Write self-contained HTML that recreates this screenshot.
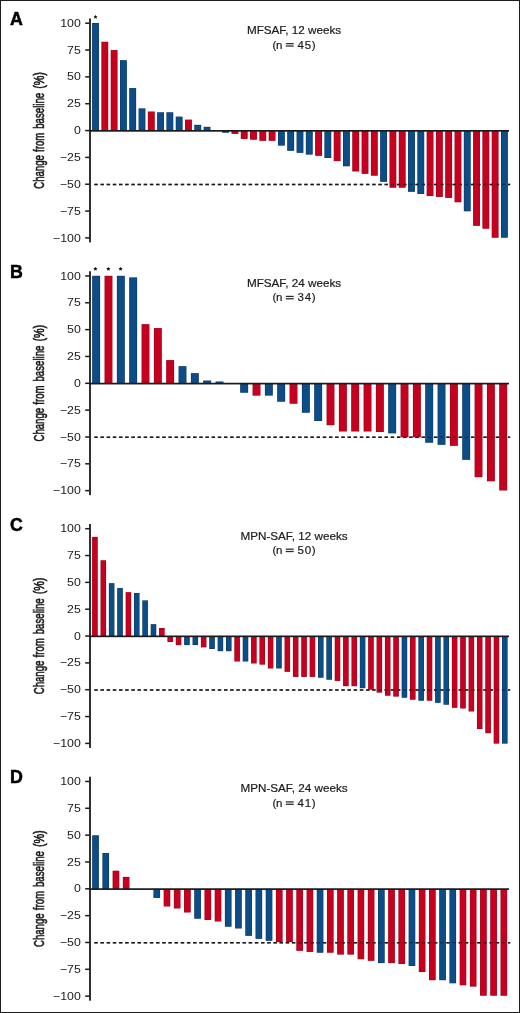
<!DOCTYPE html>
<html><head><meta charset="utf-8"><title>Waterfall plots</title><style>
html,body{margin:0;padding:0;background:#fff;width:520px;height:1013px;overflow:hidden;}
svg{display:block;will-change:transform;}
text{font-family:"Liberation Sans",sans-serif;fill:#1a1a1a;}
.tl{font-size:11px;}
.tt{font-size:11.7px;stroke:#1a1a1a;stroke-width:0.2px;}
.tn{font-size:11.5px;stroke:#1a1a1a;stroke-width:0.2px;}
.yl{font-size:14px;stroke:#1a1a1a;stroke-width:0.6px;}
.pl{font-size:17.8px;font-weight:bold;fill:#000;stroke:#000;stroke-width:0.5px;}
</style></head><body>
<svg width="520" height="1013" viewBox="0 0 520 1013">
<rect x="0" y="0" width="520" height="1013" fill="#fff"/>
<g>
<line x1="94.3" y1="184.48" x2="510.2" y2="184.48" stroke="#1a1a1a" stroke-width="1.5" stroke-dasharray="3.45 2.725"/>
<rect x="92.1" y="23" width="6.85" height="107.85" fill="#0a3561"/>
<rect x="92.6" y="23.5" width="5.85" height="107.35" fill="#0d4d87"/>
<rect x="101.39" y="41.75" width="6.85" height="89.1" fill="#9e0019"/>
<rect x="101.89" y="42.25" width="5.85" height="88.6" fill="#c6001f"/>
<rect x="110.69" y="50.1" width="6.85" height="80.75" fill="#9e0019"/>
<rect x="111.19" y="50.6" width="5.85" height="80.25" fill="#c6001f"/>
<rect x="119.98" y="60.2" width="6.85" height="70.65" fill="#0a3561"/>
<rect x="120.48" y="60.7" width="5.85" height="70.15" fill="#0d4d87"/>
<rect x="129.27" y="88.1" width="6.85" height="42.75" fill="#0a3561"/>
<rect x="129.77" y="88.6" width="5.85" height="42.25" fill="#0d4d87"/>
<rect x="138.56" y="108.4" width="6.85" height="22.45" fill="#0a3561"/>
<rect x="139.06" y="108.9" width="5.85" height="21.95" fill="#0d4d87"/>
<rect x="147.86" y="111.5" width="6.85" height="19.35" fill="#9e0019"/>
<rect x="148.36" y="112" width="5.85" height="18.85" fill="#c6001f"/>
<rect x="157.15" y="112.3" width="6.85" height="18.55" fill="#0a3561"/>
<rect x="157.65" y="112.8" width="5.85" height="18.05" fill="#0d4d87"/>
<rect x="166.44" y="112.3" width="6.85" height="18.55" fill="#0a3561"/>
<rect x="166.94" y="112.8" width="5.85" height="18.05" fill="#0d4d87"/>
<rect x="175.74" y="116.6" width="6.85" height="14.25" fill="#0a3561"/>
<rect x="176.24" y="117.1" width="5.85" height="13.75" fill="#0d4d87"/>
<rect x="185.03" y="119.6" width="6.85" height="11.25" fill="#9e0019"/>
<rect x="185.53" y="120.1" width="5.85" height="10.75" fill="#c6001f"/>
<rect x="194.32" y="124.8" width="6.85" height="6.05" fill="#0a3561"/>
<rect x="194.82" y="125.3" width="5.85" height="5.55" fill="#0d4d87"/>
<rect x="203.62" y="126.8" width="6.85" height="4.05" fill="#0a3561"/>
<rect x="204.12" y="127.3" width="5.85" height="3.55" fill="#0d4d87"/>
<rect x="222.2" y="130.85" width="6.85" height="1.85" fill="#0a3561"/>
<rect x="222.7" y="130.85" width="5.85" height="1.35" fill="#0d4d87"/>
<rect x="231.49" y="130.85" width="6.85" height="3.05" fill="#9e0019"/>
<rect x="231.99" y="130.85" width="5.85" height="2.55" fill="#c6001f"/>
<rect x="240.79" y="130.85" width="6.85" height="8.05" fill="#9e0019"/>
<rect x="241.29" y="130.85" width="5.85" height="7.55" fill="#c6001f"/>
<rect x="250.08" y="130.85" width="6.85" height="8.85" fill="#9e0019"/>
<rect x="250.58" y="130.85" width="5.85" height="8.35" fill="#c6001f"/>
<rect x="259.37" y="130.85" width="6.85" height="9.95" fill="#9e0019"/>
<rect x="259.87" y="130.85" width="5.85" height="9.45" fill="#c6001f"/>
<rect x="268.67" y="130.85" width="6.85" height="9.95" fill="#9e0019"/>
<rect x="269.17" y="130.85" width="5.85" height="9.45" fill="#c6001f"/>
<rect x="277.96" y="130.85" width="6.85" height="14.75" fill="#0a3561"/>
<rect x="278.46" y="130.85" width="5.85" height="14.25" fill="#0d4d87"/>
<rect x="287.25" y="130.85" width="6.85" height="19.95" fill="#0a3561"/>
<rect x="287.75" y="130.85" width="5.85" height="19.45" fill="#0d4d87"/>
<rect x="296.55" y="130.85" width="6.85" height="21.95" fill="#0a3561"/>
<rect x="297.05" y="130.85" width="5.85" height="21.45" fill="#0d4d87"/>
<rect x="305.84" y="130.85" width="6.85" height="23.75" fill="#0a3561"/>
<rect x="306.34" y="130.85" width="5.85" height="23.25" fill="#0d4d87"/>
<rect x="315.13" y="130.85" width="6.85" height="24.95" fill="#9e0019"/>
<rect x="315.63" y="130.85" width="5.85" height="24.45" fill="#c6001f"/>
<rect x="324.42" y="130.85" width="6.85" height="27.15" fill="#0a3561"/>
<rect x="324.92" y="130.85" width="5.85" height="26.65" fill="#0d4d87"/>
<rect x="333.72" y="130.85" width="6.85" height="30.25" fill="#9e0019"/>
<rect x="334.22" y="130.85" width="5.85" height="29.75" fill="#c6001f"/>
<rect x="343.01" y="130.85" width="6.85" height="35.45" fill="#0a3561"/>
<rect x="343.51" y="130.85" width="5.85" height="34.95" fill="#0d4d87"/>
<rect x="352.3" y="130.85" width="6.85" height="40.65" fill="#9e0019"/>
<rect x="352.8" y="130.85" width="5.85" height="40.15" fill="#c6001f"/>
<rect x="361.6" y="130.85" width="6.85" height="42.95" fill="#9e0019"/>
<rect x="362.1" y="130.85" width="5.85" height="42.45" fill="#c6001f"/>
<rect x="370.89" y="130.85" width="6.85" height="44.85" fill="#9e0019"/>
<rect x="371.39" y="130.85" width="5.85" height="44.35" fill="#c6001f"/>
<rect x="380.18" y="130.85" width="6.85" height="50.95" fill="#0a3561"/>
<rect x="380.68" y="130.85" width="5.85" height="50.45" fill="#0d4d87"/>
<rect x="389.48" y="130.85" width="6.85" height="56.85" fill="#9e0019"/>
<rect x="389.98" y="130.85" width="5.85" height="56.35" fill="#c6001f"/>
<rect x="398.77" y="130.85" width="6.85" height="56.85" fill="#9e0019"/>
<rect x="399.27" y="130.85" width="5.85" height="56.35" fill="#c6001f"/>
<rect x="408.06" y="130.85" width="6.85" height="60.95" fill="#0a3561"/>
<rect x="408.56" y="130.85" width="5.85" height="60.45" fill="#0d4d87"/>
<rect x="417.36" y="130.85" width="6.85" height="63.15" fill="#0a3561"/>
<rect x="417.86" y="130.85" width="5.85" height="62.65" fill="#0d4d87"/>
<rect x="426.65" y="130.85" width="6.85" height="65.15" fill="#9e0019"/>
<rect x="427.15" y="130.85" width="5.85" height="64.65" fill="#c6001f"/>
<rect x="435.94" y="130.85" width="6.85" height="66.05" fill="#9e0019"/>
<rect x="436.44" y="130.85" width="5.85" height="65.55" fill="#c6001f"/>
<rect x="445.23" y="130.85" width="6.85" height="67.05" fill="#9e0019"/>
<rect x="445.73" y="130.85" width="5.85" height="66.55" fill="#c6001f"/>
<rect x="454.53" y="130.85" width="6.85" height="71.45" fill="#9e0019"/>
<rect x="455.03" y="130.85" width="5.85" height="70.95" fill="#c6001f"/>
<rect x="463.82" y="130.85" width="6.85" height="80.45" fill="#0a3561"/>
<rect x="464.32" y="130.85" width="5.85" height="79.95" fill="#0d4d87"/>
<rect x="473.11" y="130.85" width="6.85" height="94.95" fill="#9e0019"/>
<rect x="473.61" y="130.85" width="5.85" height="94.45" fill="#c6001f"/>
<rect x="482.41" y="130.85" width="6.85" height="97.85" fill="#9e0019"/>
<rect x="482.91" y="130.85" width="5.85" height="97.35" fill="#c6001f"/>
<rect x="491.7" y="130.85" width="6.85" height="106.85" fill="#9e0019"/>
<rect x="492.2" y="130.85" width="5.85" height="106.35" fill="#c6001f"/>
<rect x="500.99" y="130.85" width="6.85" height="106.85" fill="#0a3561"/>
<rect x="501.49" y="130.85" width="5.85" height="106.35" fill="#0d4d87"/>
<polygon points="95.5,14.7 96.12,16.15 97.69,16.29 96.5,17.32 96.85,18.86 95.5,18.05 94.15,18.86 94.5,17.32 93.31,16.29 94.88,16.15" fill="#111"/>
<rect x="89" y="130" width="420" height="1.7" fill="#1a1a1a"/>
<line x1="94.3" y1="184.48" x2="510.2" y2="184.48" stroke="#1a1a1a" stroke-width="1.5" stroke-dasharray="3.45 2.725" stroke-opacity="0.55"/>
<rect x="89.1" y="18.5" width="1.8" height="223.9" fill="#1a1a1a"/>
<rect x="85.2" y="22.45" width="4.2" height="1.5" fill="#1a1a1a"/>
<text class="tl" text-anchor="end" transform="translate(80.8 26.8) scale(1.12 1)">100</text>
<rect x="85.2" y="49.29" width="4.2" height="1.5" fill="#1a1a1a"/>
<text class="tl" text-anchor="end" transform="translate(80.8 53.64) scale(1.12 1)">75</text>
<rect x="85.2" y="76.13" width="4.2" height="1.5" fill="#1a1a1a"/>
<text class="tl" text-anchor="end" transform="translate(80.8 80.48) scale(1.12 1)">50</text>
<rect x="85.2" y="102.96" width="4.2" height="1.5" fill="#1a1a1a"/>
<text class="tl" text-anchor="end" transform="translate(80.8 107.31) scale(1.12 1)">25</text>
<rect x="85.2" y="129.8" width="4.2" height="1.5" fill="#1a1a1a"/>
<text class="tl" text-anchor="end" transform="translate(80.8 134.15) scale(1.12 1)">0</text>
<rect x="85.2" y="156.64" width="4.2" height="1.5" fill="#1a1a1a"/>
<text class="tl" text-anchor="end" transform="translate(80.8 160.99) scale(1.12 1)">−25</text>
<rect x="85.2" y="183.48" width="4.2" height="1.5" fill="#1a1a1a"/>
<text class="tl" text-anchor="end" transform="translate(80.8 187.83) scale(1.12 1)">−50</text>
<rect x="85.2" y="210.31" width="4.2" height="1.5" fill="#1a1a1a"/>
<text class="tl" text-anchor="end" transform="translate(80.8 214.66) scale(1.12 1)">−75</text>
<rect x="85.2" y="237.15" width="4.2" height="1.5" fill="#1a1a1a"/>
<text class="tl" text-anchor="end" transform="translate(80.8 241.5) scale(1.12 1)">−100</text>
<text class="tt" x="294" y="33.75" text-anchor="middle">MFSAF, 12 weeks</text>
<text class="tn" x="272.6 276.05" y="48.5">(n</text>
<rect x="285.8" y="43.05" width="7.9" height="1.25" fill="#2a2a2a"/>
<rect x="285.8" y="45.4" width="7.9" height="1.25" fill="#2a2a2a"/>
<text class="tn" x="297.6 304.65 311.7" y="48.5">45)</text>
<text class="yl" text-anchor="middle" transform="translate(44 171.93) rotate(-90) scale(0.69 1)">Change</text>
<text class="yl" text-anchor="middle" transform="translate(44 142.3) rotate(-90) scale(0.69 1)">from</text>
<text class="yl" text-anchor="middle" transform="translate(44 110.8) rotate(-90) scale(0.69 1)">baseline</text>
<text class="yl" text-anchor="middle" transform="translate(44 80.45) rotate(-90) scale(0.77 1)">(%)</text>
<text class="pl" x="10.1" y="25.1">A</text>
</g>
<g>
<line x1="94.3" y1="437.23" x2="510.2" y2="437.23" stroke="#1a1a1a" stroke-width="1.5" stroke-dasharray="3.45 2.725"/>
<rect x="92.2" y="275.8" width="7.9" height="107.8" fill="#0a3561"/>
<rect x="92.7" y="276.3" width="6.9" height="107.3" fill="#0d4d87"/>
<rect x="104.53" y="275.8" width="7.9" height="107.8" fill="#9e0019"/>
<rect x="105.03" y="276.3" width="6.9" height="107.3" fill="#c6001f"/>
<rect x="116.87" y="275.8" width="7.9" height="107.8" fill="#0a3561"/>
<rect x="117.37" y="276.3" width="6.9" height="107.3" fill="#0d4d87"/>
<rect x="129.21" y="277.4" width="7.9" height="106.2" fill="#0a3561"/>
<rect x="129.71" y="277.9" width="6.9" height="105.7" fill="#0d4d87"/>
<rect x="141.54" y="324.2" width="7.9" height="59.4" fill="#9e0019"/>
<rect x="142.04" y="324.7" width="6.9" height="58.9" fill="#c6001f"/>
<rect x="153.88" y="328.1" width="7.9" height="55.5" fill="#9e0019"/>
<rect x="154.38" y="328.6" width="6.9" height="55" fill="#c6001f"/>
<rect x="166.21" y="360.1" width="7.9" height="23.5" fill="#9e0019"/>
<rect x="166.71" y="360.6" width="6.9" height="23" fill="#c6001f"/>
<rect x="178.55" y="366.2" width="7.9" height="17.4" fill="#0a3561"/>
<rect x="179.05" y="366.7" width="6.9" height="16.9" fill="#0d4d87"/>
<rect x="190.88" y="373.2" width="7.9" height="10.4" fill="#0a3561"/>
<rect x="191.38" y="373.7" width="6.9" height="9.9" fill="#0d4d87"/>
<rect x="203.22" y="380.5" width="7.9" height="3.1" fill="#0a3561"/>
<rect x="203.72" y="381" width="6.9" height="2.6" fill="#0d4d87"/>
<rect x="215.55" y="381.5" width="7.9" height="2.1" fill="#0a3561"/>
<rect x="216.05" y="382" width="6.9" height="1.6" fill="#0d4d87"/>
<rect x="240.22" y="383.6" width="7.9" height="9.1" fill="#0a3561"/>
<rect x="240.72" y="383.6" width="6.9" height="8.6" fill="#0d4d87"/>
<rect x="252.56" y="383.6" width="7.9" height="12" fill="#9e0019"/>
<rect x="253.06" y="383.6" width="6.9" height="11.5" fill="#c6001f"/>
<rect x="264.89" y="383.6" width="7.9" height="12" fill="#0a3561"/>
<rect x="265.39" y="383.6" width="6.9" height="11.5" fill="#0d4d87"/>
<rect x="277.23" y="383.6" width="7.9" height="18.1" fill="#0a3561"/>
<rect x="277.73" y="383.6" width="6.9" height="17.6" fill="#0d4d87"/>
<rect x="289.56" y="383.6" width="7.9" height="20.1" fill="#9e0019"/>
<rect x="290.06" y="383.6" width="6.9" height="19.6" fill="#c6001f"/>
<rect x="301.9" y="383.6" width="7.9" height="29.1" fill="#0a3561"/>
<rect x="302.4" y="383.6" width="6.9" height="28.6" fill="#0d4d87"/>
<rect x="314.23" y="383.6" width="7.9" height="37.4" fill="#0a3561"/>
<rect x="314.73" y="383.6" width="6.9" height="36.9" fill="#0d4d87"/>
<rect x="326.56" y="383.6" width="7.9" height="41.6" fill="#9e0019"/>
<rect x="327.06" y="383.6" width="6.9" height="41.1" fill="#c6001f"/>
<rect x="338.9" y="383.6" width="7.9" height="47.9" fill="#9e0019"/>
<rect x="339.4" y="383.6" width="6.9" height="47.4" fill="#c6001f"/>
<rect x="351.24" y="383.6" width="7.9" height="47.9" fill="#9e0019"/>
<rect x="351.74" y="383.6" width="6.9" height="47.4" fill="#c6001f"/>
<rect x="363.57" y="383.6" width="7.9" height="47.9" fill="#9e0019"/>
<rect x="364.07" y="383.6" width="6.9" height="47.4" fill="#c6001f"/>
<rect x="375.91" y="383.6" width="7.9" height="48.4" fill="#9e0019"/>
<rect x="376.41" y="383.6" width="6.9" height="47.9" fill="#c6001f"/>
<rect x="388.24" y="383.6" width="7.9" height="49.8" fill="#0a3561"/>
<rect x="388.74" y="383.6" width="6.9" height="49.3" fill="#0d4d87"/>
<rect x="400.57" y="383.6" width="7.9" height="53.7" fill="#9e0019"/>
<rect x="401.07" y="383.6" width="6.9" height="53.2" fill="#c6001f"/>
<rect x="412.91" y="383.6" width="7.9" height="53.7" fill="#9e0019"/>
<rect x="413.41" y="383.6" width="6.9" height="53.2" fill="#c6001f"/>
<rect x="425.25" y="383.6" width="7.9" height="59.1" fill="#0a3561"/>
<rect x="425.75" y="383.6" width="6.9" height="58.6" fill="#0d4d87"/>
<rect x="437.58" y="383.6" width="7.9" height="61.2" fill="#0a3561"/>
<rect x="438.08" y="383.6" width="6.9" height="60.7" fill="#0d4d87"/>
<rect x="449.92" y="383.6" width="7.9" height="62.2" fill="#9e0019"/>
<rect x="450.42" y="383.6" width="6.9" height="61.7" fill="#c6001f"/>
<rect x="462.25" y="383.6" width="7.9" height="76.2" fill="#0a3561"/>
<rect x="462.75" y="383.6" width="6.9" height="75.7" fill="#0d4d87"/>
<rect x="474.59" y="383.6" width="7.9" height="93.6" fill="#9e0019"/>
<rect x="475.09" y="383.6" width="6.9" height="93.1" fill="#c6001f"/>
<rect x="486.92" y="383.6" width="7.9" height="97.7" fill="#9e0019"/>
<rect x="487.42" y="383.6" width="6.9" height="97.2" fill="#c6001f"/>
<rect x="499.25" y="383.6" width="7.9" height="106.9" fill="#9e0019"/>
<rect x="499.75" y="383.6" width="6.9" height="106.4" fill="#c6001f"/>
<polygon points="95.4,266.65 96.02,268.1 97.59,268.24 96.4,269.27 96.75,270.81 95.4,270 94.05,270.81 94.4,269.27 93.21,268.24 94.78,268.1" fill="#111"/>
<polygon points="108.35,266.65 108.97,268.1 110.54,268.24 109.35,269.27 109.7,270.81 108.35,270 107,270.81 107.35,269.27 106.16,268.24 107.73,268.1" fill="#111"/>
<polygon points="120.6,266.65 121.22,268.1 122.79,268.24 121.6,269.27 121.95,270.81 120.6,270 119.25,270.81 119.6,269.27 118.41,268.24 119.98,268.1" fill="#111"/>
<rect x="89" y="382.75" width="420" height="1.7" fill="#1a1a1a"/>
<line x1="94.3" y1="437.23" x2="510.2" y2="437.23" stroke="#1a1a1a" stroke-width="1.5" stroke-dasharray="3.45 2.725" stroke-opacity="0.55"/>
<rect x="89.1" y="271.25" width="1.8" height="223.9" fill="#1a1a1a"/>
<rect x="85.2" y="275.2" width="4.2" height="1.5" fill="#1a1a1a"/>
<text class="tl" text-anchor="end" transform="translate(80.8 279.55) scale(1.12 1)">100</text>
<rect x="85.2" y="302.04" width="4.2" height="1.5" fill="#1a1a1a"/>
<text class="tl" text-anchor="end" transform="translate(80.8 306.39) scale(1.12 1)">75</text>
<rect x="85.2" y="328.88" width="4.2" height="1.5" fill="#1a1a1a"/>
<text class="tl" text-anchor="end" transform="translate(80.8 333.23) scale(1.12 1)">50</text>
<rect x="85.2" y="355.71" width="4.2" height="1.5" fill="#1a1a1a"/>
<text class="tl" text-anchor="end" transform="translate(80.8 360.06) scale(1.12 1)">25</text>
<rect x="85.2" y="382.55" width="4.2" height="1.5" fill="#1a1a1a"/>
<text class="tl" text-anchor="end" transform="translate(80.8 386.9) scale(1.12 1)">0</text>
<rect x="85.2" y="409.39" width="4.2" height="1.5" fill="#1a1a1a"/>
<text class="tl" text-anchor="end" transform="translate(80.8 413.74) scale(1.12 1)">−25</text>
<rect x="85.2" y="436.23" width="4.2" height="1.5" fill="#1a1a1a"/>
<text class="tl" text-anchor="end" transform="translate(80.8 440.58) scale(1.12 1)">−50</text>
<rect x="85.2" y="463.06" width="4.2" height="1.5" fill="#1a1a1a"/>
<text class="tl" text-anchor="end" transform="translate(80.8 467.41) scale(1.12 1)">−75</text>
<rect x="85.2" y="489.9" width="4.2" height="1.5" fill="#1a1a1a"/>
<text class="tl" text-anchor="end" transform="translate(80.8 494.25) scale(1.12 1)">−100</text>
<text class="tt" x="294" y="286.5" text-anchor="middle">MFSAF, 24 weeks</text>
<text class="tn" x="272.6 276.05" y="301.25">(n</text>
<rect x="285.8" y="295.8" width="7.9" height="1.25" fill="#2a2a2a"/>
<rect x="285.8" y="298.15" width="7.9" height="1.25" fill="#2a2a2a"/>
<text class="tn" x="297.6 304.65 311.7" y="301.25">34)</text>
<text class="yl" text-anchor="middle" transform="translate(44 424.68) rotate(-90) scale(0.69 1)">Change</text>
<text class="yl" text-anchor="middle" transform="translate(44 395.05) rotate(-90) scale(0.69 1)">from</text>
<text class="yl" text-anchor="middle" transform="translate(44 363.55) rotate(-90) scale(0.69 1)">baseline</text>
<text class="yl" text-anchor="middle" transform="translate(44 333.2) rotate(-90) scale(0.77 1)">(%)</text>
<text class="pl" x="10.1" y="277.85">B</text>
</g>
<g>
<line x1="94.3" y1="689.97" x2="510.2" y2="689.97" stroke="#1a1a1a" stroke-width="1.5" stroke-dasharray="3.45 2.725"/>
<rect x="92.15" y="536.85" width="5.55" height="99.5" fill="#9e0019"/>
<rect x="92.65" y="537.35" width="4.55" height="99" fill="#c6001f"/>
<rect x="100.52" y="560.3" width="5.55" height="76.05" fill="#9e0019"/>
<rect x="101.02" y="560.8" width="4.55" height="75.55" fill="#c6001f"/>
<rect x="108.88" y="583.2" width="5.55" height="53.15" fill="#0a3561"/>
<rect x="109.38" y="583.7" width="4.55" height="52.65" fill="#0d4d87"/>
<rect x="117.25" y="588.1" width="5.55" height="48.25" fill="#0a3561"/>
<rect x="117.75" y="588.6" width="4.55" height="47.75" fill="#0d4d87"/>
<rect x="125.61" y="592.2" width="5.55" height="44.15" fill="#9e0019"/>
<rect x="126.11" y="592.7" width="4.55" height="43.65" fill="#c6001f"/>
<rect x="133.98" y="593" width="5.55" height="43.35" fill="#0a3561"/>
<rect x="134.48" y="593.5" width="4.55" height="42.85" fill="#0d4d87"/>
<rect x="142.34" y="600.4" width="5.55" height="35.95" fill="#0a3561"/>
<rect x="142.84" y="600.9" width="4.55" height="35.45" fill="#0d4d87"/>
<rect x="150.71" y="624.2" width="5.55" height="12.15" fill="#0a3561"/>
<rect x="151.21" y="624.7" width="4.55" height="11.65" fill="#0d4d87"/>
<rect x="159.07" y="628" width="5.55" height="8.35" fill="#9e0019"/>
<rect x="159.57" y="628.5" width="4.55" height="7.85" fill="#c6001f"/>
<rect x="167.44" y="636.35" width="5.55" height="5.65" fill="#9e0019"/>
<rect x="167.94" y="636.35" width="4.55" height="5.15" fill="#c6001f"/>
<rect x="175.8" y="636.35" width="5.55" height="8.75" fill="#9e0019"/>
<rect x="176.3" y="636.35" width="4.55" height="8.25" fill="#c6001f"/>
<rect x="184.17" y="636.35" width="5.55" height="8.75" fill="#0a3561"/>
<rect x="184.67" y="636.35" width="4.55" height="8.25" fill="#0d4d87"/>
<rect x="192.53" y="636.35" width="5.55" height="8.75" fill="#0a3561"/>
<rect x="193.03" y="636.35" width="4.55" height="8.25" fill="#0d4d87"/>
<rect x="200.9" y="636.35" width="5.55" height="11.05" fill="#9e0019"/>
<rect x="201.4" y="636.35" width="4.55" height="10.55" fill="#c6001f"/>
<rect x="209.26" y="636.35" width="5.55" height="12.65" fill="#0a3561"/>
<rect x="209.76" y="636.35" width="4.55" height="12.15" fill="#0d4d87"/>
<rect x="217.62" y="636.35" width="5.55" height="14.85" fill="#0a3561"/>
<rect x="218.12" y="636.35" width="4.55" height="14.35" fill="#0d4d87"/>
<rect x="225.99" y="636.35" width="5.55" height="14.85" fill="#0a3561"/>
<rect x="226.49" y="636.35" width="4.55" height="14.35" fill="#0d4d87"/>
<rect x="234.36" y="636.35" width="5.55" height="25.15" fill="#9e0019"/>
<rect x="234.86" y="636.35" width="4.55" height="24.65" fill="#c6001f"/>
<rect x="242.72" y="636.35" width="5.55" height="25.15" fill="#0a3561"/>
<rect x="243.22" y="636.35" width="4.55" height="24.65" fill="#0d4d87"/>
<rect x="251.09" y="636.35" width="5.55" height="27.15" fill="#9e0019"/>
<rect x="251.59" y="636.35" width="4.55" height="26.65" fill="#c6001f"/>
<rect x="259.45" y="636.35" width="5.55" height="28.25" fill="#9e0019"/>
<rect x="259.95" y="636.35" width="4.55" height="27.75" fill="#c6001f"/>
<rect x="267.81" y="636.35" width="5.55" height="32.15" fill="#9e0019"/>
<rect x="268.31" y="636.35" width="4.55" height="31.65" fill="#c6001f"/>
<rect x="276.18" y="636.35" width="5.55" height="32.15" fill="#0a3561"/>
<rect x="276.68" y="636.35" width="4.55" height="31.65" fill="#0d4d87"/>
<rect x="284.55" y="636.35" width="5.55" height="35.45" fill="#9e0019"/>
<rect x="285.05" y="636.35" width="4.55" height="34.95" fill="#c6001f"/>
<rect x="292.91" y="636.35" width="5.55" height="40.55" fill="#9e0019"/>
<rect x="293.41" y="636.35" width="4.55" height="40.05" fill="#c6001f"/>
<rect x="301.27" y="636.35" width="5.55" height="40.55" fill="#9e0019"/>
<rect x="301.77" y="636.35" width="4.55" height="40.05" fill="#c6001f"/>
<rect x="309.64" y="636.35" width="5.55" height="40.55" fill="#9e0019"/>
<rect x="310.14" y="636.35" width="4.55" height="40.05" fill="#c6001f"/>
<rect x="318" y="636.35" width="5.55" height="41.35" fill="#0a3561"/>
<rect x="318.5" y="636.35" width="4.55" height="40.85" fill="#0d4d87"/>
<rect x="326.37" y="636.35" width="5.55" height="43.35" fill="#0a3561"/>
<rect x="326.87" y="636.35" width="4.55" height="42.85" fill="#0d4d87"/>
<rect x="334.74" y="636.35" width="5.55" height="44.55" fill="#9e0019"/>
<rect x="335.24" y="636.35" width="4.55" height="44.05" fill="#c6001f"/>
<rect x="343.1" y="636.35" width="5.55" height="49.85" fill="#9e0019"/>
<rect x="343.6" y="636.35" width="4.55" height="49.35" fill="#c6001f"/>
<rect x="351.47" y="636.35" width="5.55" height="49.85" fill="#9e0019"/>
<rect x="351.97" y="636.35" width="4.55" height="49.35" fill="#c6001f"/>
<rect x="359.83" y="636.35" width="5.55" height="51.85" fill="#0a3561"/>
<rect x="360.33" y="636.35" width="4.55" height="51.35" fill="#0d4d87"/>
<rect x="368.2" y="636.35" width="5.55" height="53.35" fill="#9e0019"/>
<rect x="368.7" y="636.35" width="4.55" height="52.85" fill="#c6001f"/>
<rect x="376.56" y="636.35" width="5.55" height="56.25" fill="#9e0019"/>
<rect x="377.06" y="636.35" width="4.55" height="55.75" fill="#c6001f"/>
<rect x="384.93" y="636.35" width="5.55" height="59.35" fill="#9e0019"/>
<rect x="385.43" y="636.35" width="4.55" height="58.85" fill="#c6001f"/>
<rect x="393.29" y="636.35" width="5.55" height="60.25" fill="#9e0019"/>
<rect x="393.79" y="636.35" width="4.55" height="59.75" fill="#c6001f"/>
<rect x="401.65" y="636.35" width="5.55" height="61.35" fill="#0a3561"/>
<rect x="402.15" y="636.35" width="4.55" height="60.85" fill="#0d4d87"/>
<rect x="410.02" y="636.35" width="5.55" height="63.35" fill="#9e0019"/>
<rect x="410.52" y="636.35" width="4.55" height="62.85" fill="#c6001f"/>
<rect x="418.38" y="636.35" width="5.55" height="64.35" fill="#0a3561"/>
<rect x="418.88" y="636.35" width="4.55" height="63.85" fill="#0d4d87"/>
<rect x="426.75" y="636.35" width="5.55" height="64.35" fill="#9e0019"/>
<rect x="427.25" y="636.35" width="4.55" height="63.85" fill="#c6001f"/>
<rect x="435.12" y="636.35" width="5.55" height="66.45" fill="#0a3561"/>
<rect x="435.62" y="636.35" width="4.55" height="65.95" fill="#0d4d87"/>
<rect x="443.48" y="636.35" width="5.55" height="68.35" fill="#0a3561"/>
<rect x="443.98" y="636.35" width="4.55" height="67.85" fill="#0d4d87"/>
<rect x="451.85" y="636.35" width="5.55" height="71.45" fill="#9e0019"/>
<rect x="452.35" y="636.35" width="4.55" height="70.95" fill="#c6001f"/>
<rect x="460.21" y="636.35" width="5.55" height="72.15" fill="#9e0019"/>
<rect x="460.71" y="636.35" width="4.55" height="71.65" fill="#c6001f"/>
<rect x="468.58" y="636.35" width="5.55" height="75.15" fill="#9e0019"/>
<rect x="469.08" y="636.35" width="4.55" height="74.65" fill="#c6001f"/>
<rect x="476.94" y="636.35" width="5.55" height="92.65" fill="#9e0019"/>
<rect x="477.44" y="636.35" width="4.55" height="92.15" fill="#c6001f"/>
<rect x="485.31" y="636.35" width="5.55" height="96.85" fill="#9e0019"/>
<rect x="485.81" y="636.35" width="4.55" height="96.35" fill="#c6001f"/>
<rect x="493.67" y="636.35" width="5.55" height="107.25" fill="#9e0019"/>
<rect x="494.17" y="636.35" width="4.55" height="106.75" fill="#c6001f"/>
<rect x="502.03" y="636.35" width="5.55" height="107.25" fill="#0a3561"/>
<rect x="502.53" y="636.35" width="4.55" height="106.75" fill="#0d4d87"/>
<rect x="89" y="635.5" width="420" height="1.7" fill="#1a1a1a"/>
<line x1="94.3" y1="689.97" x2="510.2" y2="689.97" stroke="#1a1a1a" stroke-width="1.5" stroke-dasharray="3.45 2.725" stroke-opacity="0.55"/>
<rect x="89.1" y="524" width="1.8" height="223.9" fill="#1a1a1a"/>
<rect x="85.2" y="527.95" width="4.2" height="1.5" fill="#1a1a1a"/>
<text class="tl" text-anchor="end" transform="translate(80.8 532.3) scale(1.12 1)">100</text>
<rect x="85.2" y="554.79" width="4.2" height="1.5" fill="#1a1a1a"/>
<text class="tl" text-anchor="end" transform="translate(80.8 559.14) scale(1.12 1)">75</text>
<rect x="85.2" y="581.62" width="4.2" height="1.5" fill="#1a1a1a"/>
<text class="tl" text-anchor="end" transform="translate(80.8 585.98) scale(1.12 1)">50</text>
<rect x="85.2" y="608.46" width="4.2" height="1.5" fill="#1a1a1a"/>
<text class="tl" text-anchor="end" transform="translate(80.8 612.81) scale(1.12 1)">25</text>
<rect x="85.2" y="635.3" width="4.2" height="1.5" fill="#1a1a1a"/>
<text class="tl" text-anchor="end" transform="translate(80.8 639.65) scale(1.12 1)">0</text>
<rect x="85.2" y="662.14" width="4.2" height="1.5" fill="#1a1a1a"/>
<text class="tl" text-anchor="end" transform="translate(80.8 666.49) scale(1.12 1)">−25</text>
<rect x="85.2" y="688.97" width="4.2" height="1.5" fill="#1a1a1a"/>
<text class="tl" text-anchor="end" transform="translate(80.8 693.32) scale(1.12 1)">−50</text>
<rect x="85.2" y="715.81" width="4.2" height="1.5" fill="#1a1a1a"/>
<text class="tl" text-anchor="end" transform="translate(80.8 720.16) scale(1.12 1)">−75</text>
<rect x="85.2" y="742.65" width="4.2" height="1.5" fill="#1a1a1a"/>
<text class="tl" text-anchor="end" transform="translate(80.8 747) scale(1.12 1)">−100</text>
<text class="tt" x="294" y="539.65" text-anchor="middle">MPN-SAF, 12 weeks</text>
<text class="tn" x="272.6 276.05" y="554">(n</text>
<rect x="285.8" y="548.55" width="7.9" height="1.25" fill="#2a2a2a"/>
<rect x="285.8" y="550.9" width="7.9" height="1.25" fill="#2a2a2a"/>
<text class="tn" x="297.6 304.65 311.7" y="554">50)</text>
<text class="yl" text-anchor="middle" transform="translate(44 677.43) rotate(-90) scale(0.69 1)">Change</text>
<text class="yl" text-anchor="middle" transform="translate(44 647.8) rotate(-90) scale(0.69 1)">from</text>
<text class="yl" text-anchor="middle" transform="translate(44 616.3) rotate(-90) scale(0.69 1)">baseline</text>
<text class="yl" text-anchor="middle" transform="translate(44 585.95) rotate(-90) scale(0.77 1)">(%)</text>
<text class="pl" x="10.1" y="530.6">C</text>
</g>
<g>
<line x1="94.3" y1="942.72" x2="510.2" y2="942.72" stroke="#1a1a1a" stroke-width="1.5" stroke-dasharray="3.45 2.725"/>
<rect x="92.2" y="835.3" width="6.65" height="53.8" fill="#0a3561"/>
<rect x="92.7" y="835.8" width="5.65" height="53.3" fill="#0d4d87"/>
<rect x="102.41" y="853" width="6.65" height="36.1" fill="#0a3561"/>
<rect x="102.91" y="853.5" width="5.65" height="35.6" fill="#0d4d87"/>
<rect x="112.61" y="870.7" width="6.65" height="18.4" fill="#9e0019"/>
<rect x="113.11" y="871.2" width="5.65" height="17.9" fill="#c6001f"/>
<rect x="122.82" y="876.9" width="6.65" height="12.2" fill="#9e0019"/>
<rect x="123.32" y="877.4" width="5.65" height="11.7" fill="#c6001f"/>
<rect x="153.44" y="889.1" width="6.65" height="8.8" fill="#0a3561"/>
<rect x="153.94" y="889.1" width="5.65" height="8.3" fill="#0d4d87"/>
<rect x="163.65" y="889.1" width="6.65" height="17.4" fill="#9e0019"/>
<rect x="164.15" y="889.1" width="5.65" height="16.9" fill="#c6001f"/>
<rect x="173.86" y="889.1" width="6.65" height="19.4" fill="#9e0019"/>
<rect x="174.36" y="889.1" width="5.65" height="18.9" fill="#c6001f"/>
<rect x="184.06" y="889.1" width="6.65" height="23.4" fill="#9e0019"/>
<rect x="184.56" y="889.1" width="5.65" height="22.9" fill="#c6001f"/>
<rect x="194.27" y="889.1" width="6.65" height="29.6" fill="#0a3561"/>
<rect x="194.77" y="889.1" width="5.65" height="29.1" fill="#0d4d87"/>
<rect x="204.48" y="889.1" width="6.65" height="30.9" fill="#9e0019"/>
<rect x="204.98" y="889.1" width="5.65" height="30.4" fill="#c6001f"/>
<rect x="214.68" y="889.1" width="6.65" height="32.4" fill="#9e0019"/>
<rect x="215.18" y="889.1" width="5.65" height="31.9" fill="#c6001f"/>
<rect x="224.89" y="889.1" width="6.65" height="37.6" fill="#0a3561"/>
<rect x="225.39" y="889.1" width="5.65" height="37.1" fill="#0d4d87"/>
<rect x="235.1" y="889.1" width="6.65" height="39.4" fill="#0a3561"/>
<rect x="235.6" y="889.1" width="5.65" height="38.9" fill="#0d4d87"/>
<rect x="245.31" y="889.1" width="6.65" height="46.7" fill="#0a3561"/>
<rect x="245.81" y="889.1" width="5.65" height="46.2" fill="#0d4d87"/>
<rect x="255.51" y="889.1" width="6.65" height="49.7" fill="#0a3561"/>
<rect x="256.01" y="889.1" width="5.65" height="49.2" fill="#0d4d87"/>
<rect x="265.72" y="889.1" width="6.65" height="51.7" fill="#0a3561"/>
<rect x="266.22" y="889.1" width="5.65" height="51.2" fill="#0d4d87"/>
<rect x="275.93" y="889.1" width="6.65" height="53" fill="#9e0019"/>
<rect x="276.43" y="889.1" width="5.65" height="52.5" fill="#c6001f"/>
<rect x="286.13" y="889.1" width="6.65" height="53" fill="#9e0019"/>
<rect x="286.63" y="889.1" width="5.65" height="52.5" fill="#c6001f"/>
<rect x="296.34" y="889.1" width="6.65" height="61.7" fill="#9e0019"/>
<rect x="296.84" y="889.1" width="5.65" height="61.2" fill="#c6001f"/>
<rect x="306.55" y="889.1" width="6.65" height="62.8" fill="#9e0019"/>
<rect x="307.05" y="889.1" width="5.65" height="62.3" fill="#c6001f"/>
<rect x="316.75" y="889.1" width="6.65" height="63.6" fill="#0a3561"/>
<rect x="317.25" y="889.1" width="5.65" height="63.1" fill="#0d4d87"/>
<rect x="326.96" y="889.1" width="6.65" height="63.6" fill="#9e0019"/>
<rect x="327.46" y="889.1" width="5.65" height="63.1" fill="#c6001f"/>
<rect x="337.17" y="889.1" width="6.65" height="65.5" fill="#9e0019"/>
<rect x="337.67" y="889.1" width="5.65" height="65" fill="#c6001f"/>
<rect x="347.38" y="889.1" width="6.65" height="65.5" fill="#9e0019"/>
<rect x="347.88" y="889.1" width="5.65" height="65" fill="#c6001f"/>
<rect x="357.58" y="889.1" width="6.65" height="70.1" fill="#9e0019"/>
<rect x="358.08" y="889.1" width="5.65" height="69.6" fill="#c6001f"/>
<rect x="367.79" y="889.1" width="6.65" height="71.7" fill="#9e0019"/>
<rect x="368.29" y="889.1" width="5.65" height="71.2" fill="#c6001f"/>
<rect x="378" y="889.1" width="6.65" height="74" fill="#0a3561"/>
<rect x="378.5" y="889.1" width="5.65" height="73.5" fill="#0d4d87"/>
<rect x="388.2" y="889.1" width="6.65" height="74" fill="#9e0019"/>
<rect x="388.7" y="889.1" width="5.65" height="73.5" fill="#c6001f"/>
<rect x="398.41" y="889.1" width="6.65" height="74.9" fill="#9e0019"/>
<rect x="398.91" y="889.1" width="5.65" height="74.4" fill="#c6001f"/>
<rect x="408.62" y="889.1" width="6.65" height="76.9" fill="#0a3561"/>
<rect x="409.12" y="889.1" width="5.65" height="76.4" fill="#0d4d87"/>
<rect x="418.82" y="889.1" width="6.65" height="82.9" fill="#9e0019"/>
<rect x="419.32" y="889.1" width="5.65" height="82.4" fill="#c6001f"/>
<rect x="429.03" y="889.1" width="6.65" height="91.1" fill="#9e0019"/>
<rect x="429.53" y="889.1" width="5.65" height="90.6" fill="#c6001f"/>
<rect x="439.24" y="889.1" width="6.65" height="91.1" fill="#0a3561"/>
<rect x="439.74" y="889.1" width="5.65" height="90.6" fill="#0d4d87"/>
<rect x="449.44" y="889.1" width="6.65" height="94.2" fill="#0a3561"/>
<rect x="449.94" y="889.1" width="5.65" height="93.7" fill="#0d4d87"/>
<rect x="459.65" y="889.1" width="6.65" height="96.2" fill="#9e0019"/>
<rect x="460.15" y="889.1" width="5.65" height="95.7" fill="#c6001f"/>
<rect x="469.86" y="889.1" width="6.65" height="97.5" fill="#9e0019"/>
<rect x="470.36" y="889.1" width="5.65" height="97" fill="#c6001f"/>
<rect x="480.07" y="889.1" width="6.65" height="106.6" fill="#9e0019"/>
<rect x="480.57" y="889.1" width="5.65" height="106.1" fill="#c6001f"/>
<rect x="490.27" y="889.1" width="6.65" height="106.6" fill="#9e0019"/>
<rect x="490.77" y="889.1" width="5.65" height="106.1" fill="#c6001f"/>
<rect x="500.48" y="889.1" width="6.65" height="106.6" fill="#9e0019"/>
<rect x="500.98" y="889.1" width="5.65" height="106.1" fill="#c6001f"/>
<rect x="89" y="888.25" width="420" height="1.7" fill="#1a1a1a"/>
<line x1="94.3" y1="942.72" x2="510.2" y2="942.72" stroke="#1a1a1a" stroke-width="1.5" stroke-dasharray="3.45 2.725" stroke-opacity="0.55"/>
<rect x="89.1" y="776.75" width="1.8" height="223.9" fill="#1a1a1a"/>
<rect x="85.2" y="780.7" width="4.2" height="1.5" fill="#1a1a1a"/>
<text class="tl" text-anchor="end" transform="translate(80.8 785.05) scale(1.12 1)">100</text>
<rect x="85.2" y="807.54" width="4.2" height="1.5" fill="#1a1a1a"/>
<text class="tl" text-anchor="end" transform="translate(80.8 811.89) scale(1.12 1)">75</text>
<rect x="85.2" y="834.38" width="4.2" height="1.5" fill="#1a1a1a"/>
<text class="tl" text-anchor="end" transform="translate(80.8 838.73) scale(1.12 1)">50</text>
<rect x="85.2" y="861.21" width="4.2" height="1.5" fill="#1a1a1a"/>
<text class="tl" text-anchor="end" transform="translate(80.8 865.56) scale(1.12 1)">25</text>
<rect x="85.2" y="888.05" width="4.2" height="1.5" fill="#1a1a1a"/>
<text class="tl" text-anchor="end" transform="translate(80.8 892.4) scale(1.12 1)">0</text>
<rect x="85.2" y="914.89" width="4.2" height="1.5" fill="#1a1a1a"/>
<text class="tl" text-anchor="end" transform="translate(80.8 919.24) scale(1.12 1)">−25</text>
<rect x="85.2" y="941.72" width="4.2" height="1.5" fill="#1a1a1a"/>
<text class="tl" text-anchor="end" transform="translate(80.8 946.07) scale(1.12 1)">−50</text>
<rect x="85.2" y="968.56" width="4.2" height="1.5" fill="#1a1a1a"/>
<text class="tl" text-anchor="end" transform="translate(80.8 972.91) scale(1.12 1)">−75</text>
<rect x="85.2" y="995.4" width="4.2" height="1.5" fill="#1a1a1a"/>
<text class="tl" text-anchor="end" transform="translate(80.8 999.75) scale(1.12 1)">−100</text>
<text class="tt" x="294" y="792" text-anchor="middle">MPN-SAF, 24 weeks</text>
<text class="tn" x="272.6 276.05" y="806.75">(n</text>
<rect x="285.8" y="801.3" width="7.9" height="1.25" fill="#2a2a2a"/>
<rect x="285.8" y="803.65" width="7.9" height="1.25" fill="#2a2a2a"/>
<text class="tn" x="297.6 304.65 311.7" y="806.75">41)</text>
<text class="yl" text-anchor="middle" transform="translate(44 930.18) rotate(-90) scale(0.69 1)">Change</text>
<text class="yl" text-anchor="middle" transform="translate(44 900.55) rotate(-90) scale(0.69 1)">from</text>
<text class="yl" text-anchor="middle" transform="translate(44 869.05) rotate(-90) scale(0.69 1)">baseline</text>
<text class="yl" text-anchor="middle" transform="translate(44 838.7) rotate(-90) scale(0.77 1)">(%)</text>
<text class="pl" x="10.1" y="783.35">D</text>
</g>
<rect x="0.5" y="0.5" width="519" height="1012" fill="none" stroke="#1e1e1e" stroke-width="1"/>
</svg>
</body></html>
